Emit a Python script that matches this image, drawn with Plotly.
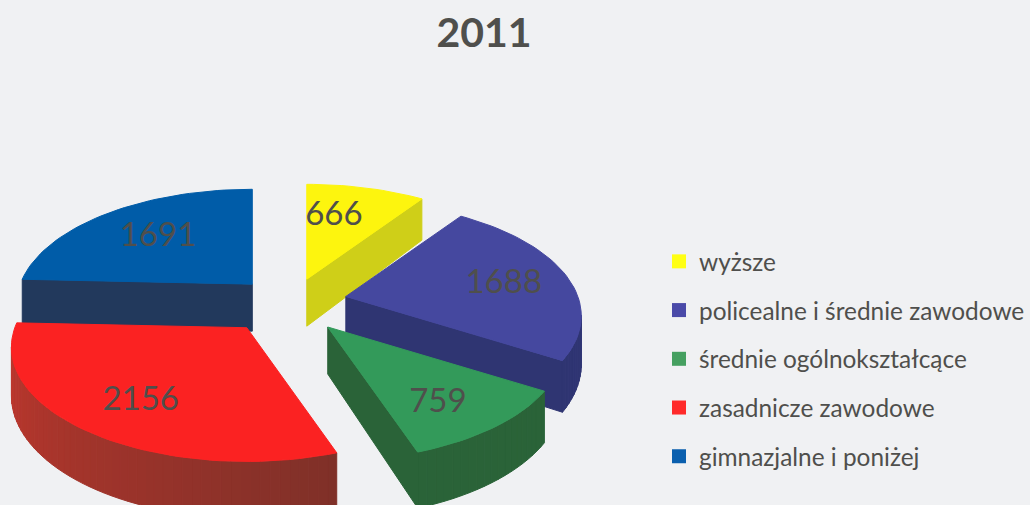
import math
import plotly.graph_objects as go

# Data
title = "2011"
categories = ["wyższe", "policealne i średnie zawodowe", "średnie ogólnokształcące",
              "zasadnicze zawodowe", "gimnazjalne i poniżej"]
values = [666, 1688, 759, 2156, 1691]

# Styles
top_colors = ["#fdf50e", "#45489f", "#339a5a", "#fb2222", "#005ca8"]
side_start = ["#cfcf18", "#343a80", "#2a6338", "#7e3028", "#22395c"]
side_end = ["#cfcf18", "#2f3572", "#2a6338", "#c4382e", "#22395c"]
legend_colors = ["#ffff14", "#4a4aa8", "#45a060", "#ff2a2a", "#0a5fae"]
draw_order = [0, 4, 1, 2, 3]
label_fx = [0.46, 0.72, 0.66, 0.66, 0.66]
label_fy = [0.68, 0.55, 0.77, 0.72, 0.65]
nudge_x = [3, 2, -3, -2, -1]
BG = "#f0f1f3"
TEXT = "#4f4f4c"
FONT = "Lato"

# Projection of the tilted pie
CX, CY = 289, 302
A, B, K, DEPTH = 232, 111, 0.17, 47
EXPLODE = 0.25
STEP = 2.0


def proj(theta):
    u, v = math.sin(theta), math.cos(theta)
    s = 1 + K * v
    return A * u / s, -B * v / s


def depth(theta):
    return DEPTH / (1 + K * math.cos(theta))


def mix(c1, c2, t):
    a = [int(c1[i:i + 2], 16) for i in (1, 3, 5)]
    b = [int(c2[i:i + 2], 16) for i in (1, 3, 5)]
    return "rgb(%d,%d,%d)" % tuple(round(p + (q - p) * t) for p, q in zip(a, b))


total = sum(values)
fig = go.Figure()
bounds = []
acc = 0.0
for val in values:
    bounds.append((acc / total * 2 * math.pi, (acc + val) / total * 2 * math.pi))
    acc += val

labels_x, labels_y, labels_t = [], [], []
for i in draw_order:
    t0, t1 = bounds[i]
    mid = (t0 + t1) / 2
    mx, my = proj(mid)
    ax, ay = CX + EXPLODE * mx + nudge_x[i], CY + EXPLODE * my
    n = max(2, int(math.degrees(t1 - t0) / STEP))
    thetas = [t0 + (t1 - t0) * k / n for k in range(n + 1)]
    pts = [(ax + proj(t)[0], ay + proj(t)[1], depth(t)) for t in thetas]
    apex_d = depth(math.pi / 2)
    outline = [(ax, ay, apex_d)] + pts

    # visible side walls: edges running leftwards on screen
    m = len(outline)
    for j in range(m):
        p, q = outline[j], outline[(j + 1) % m]
        if q[0] - p[0] >= 0:
            continue
        frac = j / max(1, m - 2)
        col = mix(side_start[i], side_end[i], min(1, frac))
        fig.add_trace(go.Scatter(
            x=[p[0], q[0], q[0], p[0], p[0]],
            y=[p[1], q[1], q[1] + q[2], p[1] + p[2], p[1]],
            mode="lines", fill="toself", fillcolor=col,
            line=dict(color=col, width=1), showlegend=False, hoverinfo="skip"))

    fig.add_trace(go.Scatter(
        x=[p[0] for p in outline] + [ax], y=[p[1] for p in outline] + [ay],
        mode="lines", fill="toself", fillcolor=top_colors[i],
        line=dict(color=top_colors[i], width=1),
        name=categories[i], showlegend=False, hoverinfo="name"))

    labels_x.append(ax + label_fx[i] * mx)
    labels_y.append(ay + label_fy[i] * my)
    labels_t.append(str(values[i]))

fig.add_trace(go.Scatter(x=labels_x, y=labels_y, text=labels_t, mode="text",
                         textfont=dict(family=FONT, size=33, color=TEXT),
                         showlegend=False, hoverinfo="skip"))

# Legend entries
for name, col in zip(categories, legend_colors):
    fig.add_trace(go.Scatter(x=[None], y=[None], mode="markers", name=name,
                             legendgroup=name,
                             marker=dict(symbol="square", size=14, color=col)))

fig.update_layout(
    width=1030, height=505,
    margin=dict(l=0, r=0, t=0, b=0),
    paper_bgcolor=BG, plot_bgcolor=BG,
    title=dict(text="<b>%s</b>" % title, x=484 / 1030, xanchor="center",
               y=1 - 33 / 505, yanchor="middle",
               font=dict(family=FONT, size=41, color=TEXT)),
    xaxis=dict(range=[0, 1030], visible=False, fixedrange=True),
    yaxis=dict(range=[505, 0], visible=False, fixedrange=True),
    legend=dict(x=659 / 1030, xanchor="left", y=1 - 239 / 505, yanchor="top",
                tracegroupgap=14, bgcolor="rgba(0,0,0,0)",
                font=dict(family=FONT, size=24.4, color=TEXT)),
)
fig.write_html("out.html", config=dict(displayModeBar=False),
               post_script="document.body.style.margin='0';")
